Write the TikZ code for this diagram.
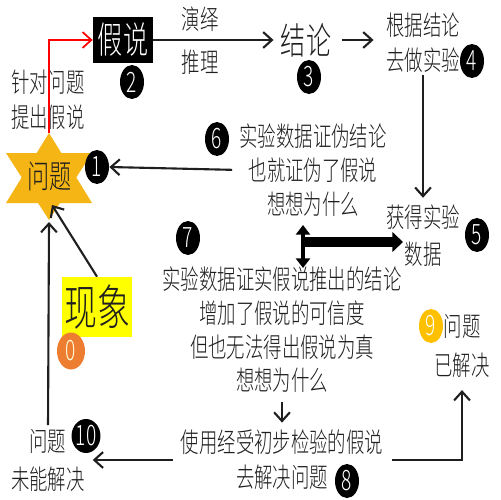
\documentclass[tikz,border=0pt]{standalone}
\usepackage{fontspec}
\IfFontExistsTF{Noto Sans CJK SC Light}
  {\newfontfamily\cjk[FakeStretch=0.68]{Noto Sans CJK SC Light}}
  {\newfontfamily\cjk[FakeStretch=0.68]{Noto Sans CJK SC}}
\usetikzlibrary{positioning, arrows.meta, shapes.geometric}
\definecolor{clrtext}{HTML}{1F1F1F}
\definecolor{clrstar}{HTML}{F5B514}
\definecolor{clrfact}{HTML}{FFFF00}
\definecolor{clrzero}{HTML}{ED7D31}
\definecolor{clrnine}{HTML}{FFC000}
\definecolor{clrred}{HTML}{FF0000}

\begin{document}
\begin{tikzpicture}[
    x=0.02cm, y=-0.02cm,
    every node/.style={font=\cjk, text=clrtext},
    txt/.style={font=\cjk\fontsize{15.4}{19.2}\selectfont, align=center, inner sep=0pt},
    bigtxt/.style={font=\cjk\fontsize{21}{24}\selectfont, inner sep=0pt},
    numdot/.style={ellipse, fill=black, text=white, inner sep=0pt, minimum width=4.8mm,
                   minimum height=6.8mm, font=\cjk\fontsize{16}{16}\selectfont},
    arrow/.style={-{Straight Barb[length=5pt, width=9pt]}, line width=1.2pt, draw=clrtext},
    redarrow/.style={-{Straight Barb[length=5pt, width=9pt]}, line width=1pt, draw=clrred},
    bararrow/.style={-{Triangle[length=6pt, width=11pt]}, line width=5.5pt, draw=black},
    twinarrow/.style={{Triangle[length=5.5pt, width=8pt]}-{Triangle[length=5.5pt, width=8pt]}, line width=2.5pt, draw=black},
]
\fill[white, use as bounding box] (0,0) rectangle (500,500);

% star
\fill[clrstar] (49,133) -- (6,203) -- (92,203) -- cycle;
\fill[clrstar] (49,220) -- (6,153) -- (92,153) -- cycle;
\coordinate (startop) at (49,133);
\coordinate (starbot) at (49,222);
\coordinate (starin) at (52,205);
\node[font=\cjk\fontsize{18.5}{20}\selectfont, inner sep=0pt] (wenti) at (50,176) {问题};
\node[numdot] (n1) at (97,167) {1};

\node[bigtxt, fill=black, text=white, minimum width=12mm, minimum height=9.4mm] (hyp) at (123,40) {假说};
\node[numdot] (n2) at (132,82) {2};
\node[txt, font=\cjk\fontsize{15.4}{20}\selectfont] (ask) at (48,100) {针对问题\\提出假说};
\node[txt, font=\cjk\fontsize{15.4}{24.5}\selectfont] (ded) at (200,41) {演绎\\推理};
\node[bigtxt] (con) at (306,40) {结论};
\node[numdot] (n3) at (309,77) {3};
\node[txt, font=\cjk\fontsize{15.4}{20}\selectfont] (exp) at (423,43) {根据结论\\去做实验};
\node[numdot] (n4) at (472,61) {4};
\node[txt, font=\cjk\fontsize{15.4}{21}\selectfont] (data) at (423,236) {获得实验\\数据};
\node[numdot] (n5) at (477,235) {5};
\node[txt] (fals) at (313,170) {实验数据证伪结论\\也就证伪了假说\\想想为什么};
\node[numdot] (n6) at (217,139) {6};
\node[numdot] (n7) at (188,238) {7};
\node[txt] (conf) at (282,330) {实验数据证实假说推出的结论\\增加了假说的可信度\\但也无法得出假说为真\\想想为什么};
\node[txt, font=\cjk\fontsize{15.4}{20}\selectfont] (use) at (282,460) {使用经受初步检验的假说\\去解决问题};
\node[numdot] (n8) at (347,481) {8};
\node[numdot, fill=clrnine] (n9) at (431,326) {9};
\node[txt, font=\cjk\fontsize{15.4}{22}\selectfont] (solved) at (462,346) {问题\\已解决};
\node[txt, font=\cjk\fontsize{15.4}{21.6}\selectfont] (unsolved) at (48,460) {问题\\未能解决};
\node[numdot] (n10) at (86,436) {10};
\node[fill=clrfact, inner sep=0pt, minimum width=14mm, minimum height=12mm,
      font=\cjk\fontsize{27.6}{30}\selectfont] (fact) at (97,307) {现象};
\node[numdot, fill=clrzero, minimum width=5.6mm, minimum height=7.4mm, text=white!85!yellow] (n0) at (71,351) {0};

% junction of the thick arrows
\coordinate (jtop) at (303,225);
\coordinate (jbot) at (303,268);
\coordinate (jmid) at (303,242);
\coordinate (jend) at (403,242);

\draw[redarrow] (startop) |- (hyp.west);
\draw[arrow, shorten >=4pt] (hyp.east) -- (con.west);
\draw[arrow, shorten <=6pt, shorten >=7pt] (con.east) -- (con.east -| exp.west);
\draw[arrow, shorten <=1pt, shorten >=4pt] (exp.south) -- (data.north);
\draw[twinarrow] (jtop) -- (jbot);
\draw[bararrow] (jmid) -- (jend);
\draw[arrow, shorten <=4pt] (fals.west) -- (n1.east);
\draw[arrow, shorten <=5pt, shorten >=4pt] (conf.south) -- (use.north);
\draw[arrow, shorten <=5pt, shorten >=7pt] (use.east) -| (solved.south);
\draw[arrow, shorten <=4.5pt, shorten >=4.3pt] (use.west) -- (use.west -| unsolved.east);
\draw[arrow, shorten <=2pt] (unsolved.north) -- (starbot);
\draw[arrow] (fact.north) -- (starin);
\end{tikzpicture}
\end{document}
